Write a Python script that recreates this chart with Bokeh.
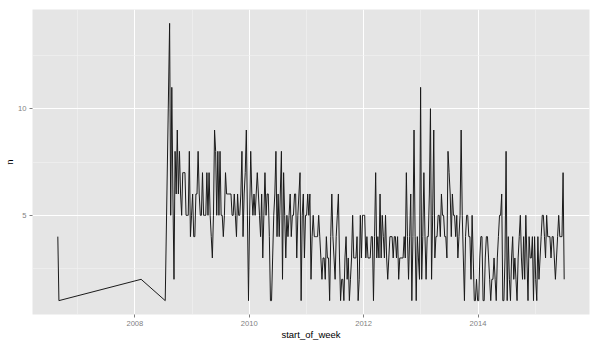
import pandas as pd
from bokeh.plotting import figure
from bokeh.models import ColumnDataSource, Range1d, FixedTicker, DatetimeTickFormatter
from bokeh.embed import file_html
from bokeh.resources import INLINE

# ---- data ----
early_weeks = ["2006-08-27", "2006-09-03", "2008-02-10", "2008-07-13"]
early_n = [4, 1, 2, 1]

weekly_start = "2008-08-10"
n_2008_09 = [14, 5, 11, 6, 2, 8, 6, 9, 6, 8, 6, 5, 7, 7, 7, 5, 5, 5, 8, 4,
             5, 6, 4, 4, 6, 6, 8, 6, 5, 5, 7, 5, 5, 5, 7, 5, 7, 5, 4, 3,
             5, 9, 8, 5, 8, 5, 8, 5, 5, 4, 5, 7, 6, 6, 6, 6]
n_2009_10 = [6, 5, 5, 6, 5, 4, 6, 5, 5, 6, 8, 4, 6, 7, 9, 5, 1, 5, 8, 6,
             5, 6, 5, 6, 7, 6, 5, 4, 6, 3, 5, 7, 5, 6, 6, 4, 1, 1, 3, 5,
             6, 8, 4, 6, 4, 6, 8, 2, 7, 5, 3, 5, 4, 5, 6, 4, 5, 5, 6]
n_2010_11 = [6, 3, 5, 6, 7, 1, 5, 6, 3, 5, 5, 6, 5, 6, 2, 4, 5, 4, 4, 4,
             4, 5, 4, 3, 2, 3, 3, 2, 4, 3, 3, 1, 4, 6, 4, 3, 2, 4, 5, 6,
             3, 1, 2, 2, 1, 3, 4, 2, 3, 1, 2, 3, 5, 3, 3, 3, 4, 1, 2, 5, 3]
n_2011_13 = [5, 5, 5, 3, 4, 3, 3, 3, 4, 4, 1, 4, 7, 3, 4, 3, 6, 3, 5, 4,
             3, 5, 3, 2, 3, 4, 4, 4, 3, 4, 4, 3, 4, 2, 3, 3, 3, 3, 4, 3,
             7, 4, 2, 4, 6, 1, 4, 9, 4, 1, 4, 3, 2, 11, 2, 4, 7, 4, 2, 4]
n_2013_14 = [4, 6, 10, 2, 5, 9, 3, 4, 4, 5, 5, 4, 6, 5, 5, 4, 4, 3, 8, 7,
             6, 4, 6, 5, 5, 4, 5, 3, 4, 5, 9, 5, 3, 1, 4, 5, 5, 4, 4, 2,
             5, 3, 1, 1, 2, 1, 1, 3, 4, 4, 1, 1, 3, 4, 4, 3, 2, 1, 2, 2, 3]
n_2014_15 = [2, 1, 3, 4, 5, 5, 6, 1, 1, 3, 8, 1, 4, 2, 1, 3, 4, 2, 3, 2,
             1, 3, 4, 5, 3, 2, 4, 2, 5, 3, 1, 4, 3, 3, 4, 1, 4, 2, 1, 4,
             2, 3, 4, 5, 5, 4, 3, 5, 4, 4, 4, 3, 4, 4, 3, 2, 3, 4, 5, 4,
             4, 4, 7, 2]

major_years = ["2008", "2010", "2012", "2014"]
minor_years = ["2007", "2009", "2011", "2013", "2015"]
y_major = [5, 10]
y_minor = [2.5, 7.5, 12.5]

# ---- build table ----
weekly_n = n_2008_09 + n_2009_10 + n_2010_11 + n_2011_13 + n_2013_14 + n_2014_15
weekly_dates = pd.date_range(weekly_start, periods=len(weekly_n), freq="7D")
dates = pd.to_datetime(early_weeks).append(weekly_dates)
n = early_n + weekly_n
src = ColumnDataSource(dict(start_of_week=dates, n=n))

def ms(ts):
    return pd.Timestamp(ts).value / 1e6

xs = [ms(d) for d in dates]
xmin, xmax = min(xs), max(xs)
xpad = 0.05 * (xmax - xmin)
ymin, ymax = min(n), max(n)
ypad = 0.05 * (ymax - ymin)

p = figure(width=599, height=343, x_axis_type="datetime",
           output_backend="svg", toolbar_location=None,
           x_range=Range1d(xmin - xpad, xmax + xpad),
           y_range=Range1d(ymin - ypad, ymax + ypad),
           min_border_left=32, min_border_right=10,
           min_border_top=9, min_border_bottom=29)

p.background_fill_color = "#E5E5E5"
p.border_fill_color = "white"
p.outline_line_color = None

p.line("start_of_week", "n", source=src, line_color="#1a1a1a", line_width=1.0)

p.xaxis.ticker = FixedTicker(ticks=[ms(y + "-01-01") for y in major_years],
                             minor_ticks=[ms(y + "-01-01") for y in minor_years])
p.xaxis.formatter = DatetimeTickFormatter(years="%Y", months="%Y", days="%Y",
                                          hours="%Y", minutes="%Y", seconds="%Y",
                                          milliseconds="%Y", microseconds="%Y")
p.yaxis.ticker = FixedTicker(ticks=y_major, minor_ticks=y_minor)

p.xaxis.axis_label = "start_of_week"
p.yaxis.axis_label = "n"

for ax in (p.xaxis, p.yaxis):
    ax.axis_line_color = None
    ax.major_tick_line_color = "#7F7F7F"
    ax.major_tick_out = 3
    ax.major_tick_in = 0
    ax.minor_tick_line_color = None
    ax.major_label_text_color = "#7F7F7F"
    ax.major_label_text_font = "Liberation Sans"
    ax.major_label_text_font_size = "7.6px"
    ax.axis_label_text_font = "Liberation Sans"
    ax.axis_label_text_font_size = "9.5px"
    ax.axis_label_text_font_style = "normal"
    ax.axis_label_text_color = "black"
    ax.major_label_standoff = 2

p.xaxis.axis_label_standoff = 0
p.yaxis.axis_label_standoff = 0

for g in (p.xgrid, p.ygrid):
    g.grid_line_color = "white"
    g.grid_line_width = 1
    g.minor_grid_line_color = "#F2F2F2"
    g.minor_grid_line_width = 0.6

open("out.html", "w").write(file_html(p, INLINE))
